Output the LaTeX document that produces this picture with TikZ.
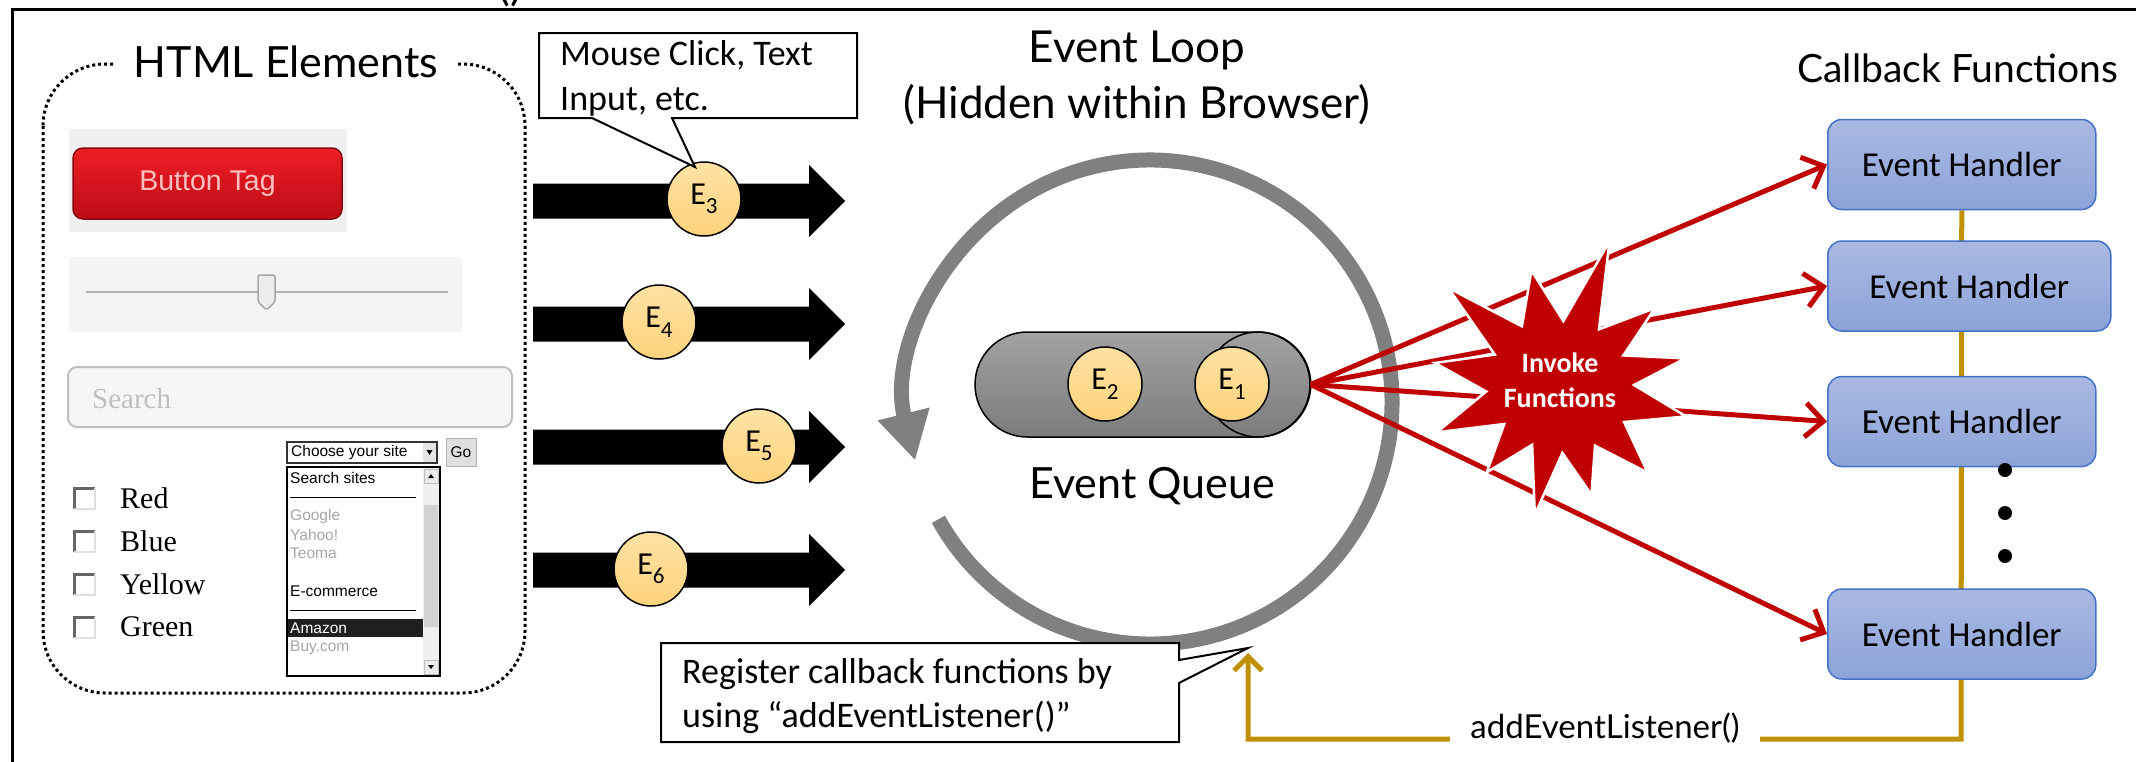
\documentclass[tikz,border=0pt]{standalone}
\usepackage{fontspec}
\setmainfont{Carlito}
\newfontfamily\titlefont{Lato}
\newfontfamily\uisans{Liberation Sans}
\newfontfamily\uiserif{Liberation Serif}
\usetikzlibrary{arrows.meta,shapes.misc,backgrounds}

\definecolor{loopgray}{HTML}{808080}
\definecolor{invokered}{HTML}{C00000}
\definecolor{regline}{HTML}{BF9000}
\definecolor{handlerborder}{HTML}{4472C4}
\definecolor{handlertop}{HTML}{AAB9E2}
\definecolor{handlerbottom}{HTML}{8CA3D9}
\definecolor{eventtop}{HTML}{FFE2A4}
\definecolor{eventbottom}{HTML}{FFD37C}
\definecolor{queuetop}{HTML}{A2A2A2}
\definecolor{queuebottom}{HTML}{7C7C7C}
\definecolor{btntop}{HTML}{EE1D25}
\definecolor{btnbottom}{HTML}{BC0C16}

% E with a lowered index digit
\newcommand\evlabel[1]{E\raisebox{-0.3em}{\fontsize{23}{23}\selectfont #1}}

\begin{document}
\begin{tikzpicture}[x=1pt,y=-1pt,
  event/.style={circle, draw=black, line width=1.5, top color=eventtop, bottom color=eventbottom,
    minimum size=74, inner sep=0, font=\fontsize{32}{32}\selectfont},
  handler/.style={rectangle, rounded corners=14, draw=handlerborder, line width=1.5,
    top color=handlertop, bottom color=handlerbottom, minimum height=90, minimum width=268,
    anchor=west, inner sep=0, font=\fontsize{35}{35}\selectfont},
  invoke/.style={draw=invokered, line width=5, -{Straight Barb[length=18pt,width=34pt]}},
  callout/.style={draw=black, line width=2, fill=white},
  calltext/.style={anchor=base west, inner sep=0, font=\fontsize{36}{36}\selectfont},
  registerline/.style={draw=regline, line width=5},
  bigtitle/.style={anchor=base, inner sep=0, font=\titlefont\fontsize{44}{44}\selectfont},
  listitem/.style={anchor=west, inner sep=0, font=\uisans\fontsize{15.5}{15.5}\selectfont},
  starlabel/.style={anchor=base, inner sep=0, text=white, font=\bfseries\fontsize{28}{28}\selectfont}]

\useasboundingbox (0,0) rectangle (2136,761);

% outer frame and clipped caption above it
\draw[line width=3] (12,775) -- (12,9) -- (2150,9);
\node[bigtitle] (cut) at (510,0) {()};

% ---------- HTML elements panel ----------
\draw[line width=3, dash pattern=on 3pt off 3pt, rounded corners=62] (43,64) rectangle (525,693);
\node[bigtitle, fill=white, inner xsep=20, font=\titlefont\fontsize{43}{43}\selectfont] (htmltitle) at (286,77) {HTML Elements};

% button
\fill[gray!12] (69,129) rectangle (347,232);
\draw[btnbottom!70!black, line width=1.5, rounded corners=10, top color=btntop, bottom color=btnbottom] (73,148) rectangle (342,219);
\node[font=\uisans\fontsize{28.5}{28.5}\selectfont, text=red!25!white, inner sep=0] (btn) at (207.5,183.5) {Button Tag};

% slider
\fill[gray!9] (69,257) rectangle (462,332);
\draw[gray!60, line width=2] (86,292) -- (448,292);
\draw[gray!70, fill=gray!15, line width=1.5, rounded corners=2] (258,275) -- (275,275) -- (275,302) -- (266.5,310) -- (258,302) -- cycle;

% search field
\draw[gray!50, line width=2, fill=gray!7, rounded corners=9] (68,367) rectangle (512,427);
\node[anchor=base west, inner sep=0, font=\uiserif\fontsize{29}{29}\selectfont, text=gray!50] (search) at (92,408) {Search};

% check boxes
\foreach \y/\lbl in {498/Red, 541/Blue, 584/Yellow, 627/Green} {
  \fill[white] (73,\y-11) rectangle (95,\y+11);
  \draw[gray!80!black, line width=3] (74,\y+11) -- (74,\y-10) -- (95,\y-10);
  \draw[gray!25, line width=1.5] (95,\y-10) -- (95,\y+11) -- (74,\y+11);
  \node[anchor=west, inner sep=0, font=\uiserif\fontsize{30}{30}\selectfont] (cb\lbl) at (120,\y) {\lbl};
}

% drop-down selector
\draw[gray!40!black, line width=1.5, fill=white] (287,442) rectangle (437,463);
\node[listitem] (choose) at (291,452.5) {Choose your site};
\fill[gray!20] (423,443) rectangle (436,462);
\fill[black] (426.5,450) -- (432.5,450) -- (429.5,455) -- cycle;
\draw[gray!60, fill=gray!25] (446,438) rectangle (476,466);
\node[font=\uisans\fontsize{15.5}{15.5}\selectfont, inner sep=0] (go) at (461,452) {Go};

% list box
\draw[black, line width=1.5, fill=white] (287,467) rectangle (440,676);
\fill[gray!12] (423,468) rectangle (439,675);
\fill[gray!35] (424,505) rectangle (438,627);
\draw[gray!50, fill=gray!15] (424,469) rectangle (438,483);
\fill[black] (428,478) -- (434,478) -- (431,474) -- cycle;
\draw[gray!50, fill=gray!15] (424,660) rectangle (438,674);
\fill[black] (428,665) -- (434,665) -- (431,669) -- cycle;
\node[listitem] (itSearch) at (290,478) {Search sites};
\draw[black, line width=1] (290,497) -- (416,497);
\node[listitem, text=gray!70] (itGoogle) at (290,516) {Google};
\node[listitem, text=gray!70] (itYahoo) at (290,534.5) {Yahoo!};
\node[listitem, text=gray!70] (itTeoma) at (290,553) {Teoma};
\node[listitem] (itShop) at (290,591) {E-commerce};
\draw[black, line width=1] (290,610) -- (416,610);
\fill[black!88] (288,619) rectangle (423,637);
\node[listitem, text=white] (itAmazon) at (290,628) {Amazon};
\node[listitem, text=gray!70] (itBuy) at (290,648) {Buy.com};

% ---------- incoming events ----------
\foreach \y in {201,324,447,570} {
  \fill[black] (533,\y-17.5) -- (809,\y-17.5) -- (809,\y-36) -- (845,\y) -- (809,\y+36) -- (809,\y+17.5) -- (533,\y+17.5) -- cycle;
}
\node[event] (e3) at (704,199) {\evlabel{3}};
\node[event] (e4) at (659,322) {\evlabel{4}};
\node[event] (e5) at (759,446) {\evlabel{5}};
\node[event] (e6) at (651,569) {\evlabel{6}};

\draw[callout] (539,33) -- (857,33) -- (857,118) -- (672,118) -- (695,167) -- (592,118) -- (539,118) -- cycle;
\node[calltext] (mouse1) at (560,65) {Mouse Click, Text};
\node[calltext] (mouse2) at (560,110) {Input, etc.};

% ---------- event loop ----------
\node[bigtitle] (loopname) at (1137,62) {Event Loop};
\node[bigtitle] (loophost) at (1137,118) {(Hidden within Browser)};

\draw[loopgray, line width=15, -{Triangle[length=48pt,width=50pt]}]
  (1150,402) ++(151:242) arc[start angle=151, end angle=-194, radius=242];

\node[rounded rectangle, draw=black, line width=1.5, top color=queuetop, bottom color=queuebottom,
  minimum width=335, minimum height=105, inner sep=0] (queue) at (1142.5,384.5) {};
\draw[black, line width=1.5] (queue.east) ++(-52.5,0) circle[radius=52.5pt];
\node[event] (e2) at (1105,384) {\evlabel{2}};
\node[event] (e1) at (1232,384) {\evlabel{1}};
\node[bigtitle, font=\titlefont\fontsize{43}{43}\selectfont] (queuename) at (1152,498) {Event Queue};

% ---------- callback functions ----------
\node[bigtitle, font=\titlefont\fontsize{39}{39}\selectfont] (cbtitle) at (1958,82) {Callback Functions};
\node[handler] (b1) at (1827,164.5) {Event Handler};
\node[handler, minimum width=283] (b2) at (1827,286) {Event Handler};
\node[handler] (b3) at (1827,421.5) {Event Handler};
\node[handler] (b4) at (1827,634) {Event Handler};
\foreach \y in {470,513,556} \fill (2005,\y) circle[radius=7pt];

\foreach \h in {b1,b2,b3,b4} \draw[invoke] (queue.east) -- (\h.west);

\begin{scope}[shift={(1560,385)}]
  \filldraw[fill=invokered, draw=white, line width=2.5]
    (-71:152) -- (-55:68) -- (-39:122) -- (-25:70) -- (-12:128) -- (0:74) -- (14:130) -- (30:74)
    -- (45:124) -- (60:70) -- (74:114) -- (88:68) -- (101:132) -- (115:66) -- (130:114) -- (145:68)
    -- (159:132) -- (175:74) -- (190:127) -- (205:72) -- (221:148) -- (237:70) -- (256:118) -- (273:64) -- cycle;
\end{scope}
\node[starlabel] (inv1) at (1560,372) {Invoke};
\node[starlabel] (inv2) at (1560,407) {Functions};

% ---------- registration ----------
\draw[callout] (661,643) -- (1179,643) -- (1179,660) -- (1248,648) -- (1179,683) -- (1179,742) -- (661,742) -- cycle;
\node[calltext] (reg1) at (682,683) {Register callback functions by};
\node[calltext] (reg2) at (682,727) {using “addEventListener()”};

\coordinate (busbottom) at (1961,739);
\coordinate (ringin) at (1248,653);
\begin{scope}[on background layer]
  \draw[registerline, -{Straight Barb[length=14pt,width=28pt]}] (b1.south) -- (busbottom) -| (ringin);
\end{scope}
\node[bigtitle, fill=white, inner xsep=20, inner ysep=6, font=\titlefont\fontsize{33}{33}\selectfont] (listener) at (1605,738) {addEventListener()};

\end{tikzpicture}
\end{document}
